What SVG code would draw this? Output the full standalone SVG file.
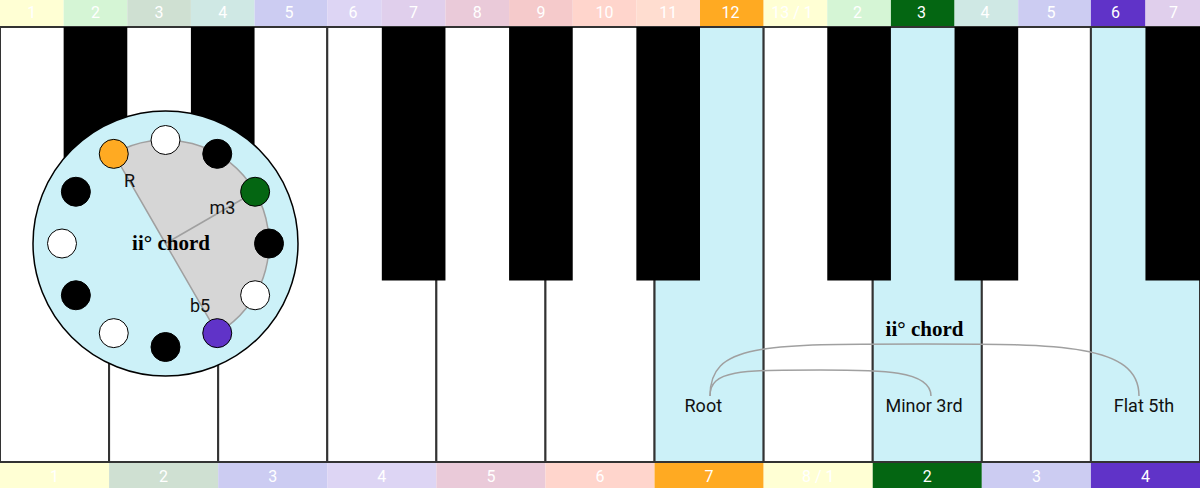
<svg xmlns="http://www.w3.org/2000/svg" width="1200" height="488" viewBox="0 0 1200 488">
<style>
.wk{fill:#ffffff;stroke:#333333;stroke-width:2}
.wk.hl{fill:#ccf1f8}
.bk{fill:#000000}
.cell text,.lbl{font-family:Roboto,"Liberation Sans",sans-serif;text-anchor:middle}
.cell text{font-size:16px;fill:#ffffff}
.lbl{font-size:18px;fill:#111111}
.title{font-family:"Liberation Serif","DejaVu Serif",serif;font-weight:bold;font-size:21px;fill:#000000;text-anchor:middle}
.dot{stroke:#000000;stroke-width:1}
.conn path{fill:none;stroke:#a0a0a0;stroke-width:1.5}
</style>
<g id="top-bar" class="cell">
<rect x="0" y="0" width="63.64" height="26" fill="#ffffd4"/><text x="31.8" y="17.5">1</text>
<rect x="63.64" y="0" width="63.64" height="26" fill="#d5f5d5"/><text x="95.5" y="17.5">2</text>
<rect x="127.27" y="0" width="63.64" height="26" fill="#cfe0d2"/><text x="159.1" y="17.5">3</text>
<rect x="190.91" y="0" width="63.64" height="26" fill="#cfe8e4"/><text x="222.7" y="17.5">4</text>
<rect x="254.55" y="0" width="72.73" height="26" fill="#ccccf2"/><text x="289" y="17.5">5</text>
<rect x="327.27" y="0" width="54.55" height="26" fill="#ddd5f4"/><text x="353" y="17.5">6</text>
<rect x="381.82" y="0" width="63.64" height="26" fill="#e0cfec"/><text x="413.6" y="17.5">7</text>
<rect x="445.45" y="0" width="63.64" height="26" fill="#eacad9"/><text x="477.3" y="17.5">8</text>
<rect x="509.09" y="0" width="63.64" height="26" fill="#f5cacb"/><text x="540.9" y="17.5">9</text>
<rect x="572.73" y="0" width="63.64" height="26" fill="#ffd5cc"/><text x="604.5" y="17.5">10</text>
<rect x="636.36" y="0" width="63.64" height="26" fill="#ffddd0"/><text x="668.2" y="17.5">11</text>
<rect x="700" y="0" width="63.64" height="26" fill="#ffaa22"/><text x="730.5" y="17.5">12</text>
<rect x="763.64" y="0" width="63.64" height="26" fill="#ffffd4"/><text x="792" y="17.5">13 / 1</text>
<rect x="827.27" y="0" width="63.64" height="26" fill="#d5f5d5"/><text x="857.5" y="17.5">2</text>
<rect x="890.91" y="0" width="63.64" height="26" fill="#046612"/><text x="921.5" y="17.5">3</text>
<rect x="954.55" y="0" width="63.64" height="26" fill="#cfe8e4"/><text x="985" y="17.5">4</text>
<rect x="1018.18" y="0" width="72.73" height="26" fill="#ccccf2"/><text x="1051" y="17.5">5</text>
<rect x="1090.91" y="0" width="54.55" height="26" fill="#6033c8"/><text x="1115.5" y="17.5">6</text>
<rect x="1145.45" y="0" width="54.55" height="26" fill="#e0cfec"/><text x="1173.5" y="17.5">7</text>
</g>
<g id="white-keys">
<rect class="wk" x="0" y="27" width="109.09" height="435"/>
<rect class="wk" x="109.09" y="27" width="109.09" height="435"/>
<rect class="wk" x="218.18" y="27" width="109.09" height="435"/>
<rect class="wk" x="327.27" y="27" width="109.09" height="435"/>
<rect class="wk" x="436.36" y="27" width="109.09" height="435"/>
<rect class="wk" x="545.45" y="27" width="109.09" height="435"/>
<rect class="wk hl" id="key-b" x="654.55" y="27" width="109.09" height="435"/>
<rect class="wk" x="763.64" y="27" width="109.09" height="435"/>
<rect class="wk hl" id="key-d" x="872.73" y="27" width="109.09" height="435"/>
<rect class="wk" x="981.82" y="27" width="109.09" height="435"/>
<rect class="wk hl" id="key-f" x="1090.91" y="27" width="109.09" height="435"/>
</g>
<g id="black-keys">
<rect class="bk" x="63.64" y="27" width="63.64" height="253.5"/>
<rect class="bk" x="190.91" y="27" width="63.64" height="253.5"/>
<rect class="bk" x="381.82" y="27" width="63.64" height="253.5"/>
<rect class="bk" x="509.09" y="27" width="63.64" height="253.5"/>
<rect class="bk" x="636.36" y="27" width="63.64" height="253.5"/>
<rect class="bk" x="827.27" y="27" width="63.64" height="253.5"/>
<rect class="bk" x="954.55" y="27" width="63.64" height="253.5"/>
<rect class="bk" x="1145.45" y="27" width="63.64" height="253.5"/>
</g>
<g id="bottom-bar" class="cell">
<rect x="0" y="463" width="109.09" height="25" fill="#ffffd4"/><text x="54.5" y="482.3">1</text>
<rect x="109.09" y="463" width="109.09" height="25" fill="#cfe0d2"/><text x="163.6" y="482.3">2</text>
<rect x="218.18" y="463" width="109.09" height="25" fill="#ccccf2"/><text x="272.7" y="482.3">3</text>
<rect x="327.27" y="463" width="109.09" height="25" fill="#ddd5f4"/><text x="381.8" y="482.3">4</text>
<rect x="436.36" y="463" width="109.09" height="25" fill="#eacad9"/><text x="490.9" y="482.3">5</text>
<rect x="545.45" y="463" width="109.09" height="25" fill="#ffd5cc"/><text x="600" y="482.3">6</text>
<rect x="654.55" y="463" width="109.09" height="25" fill="#ffaa22"/><text x="709.1" y="482.3">7</text>
<rect x="763.64" y="463" width="109.09" height="25" fill="#ffffd4"/><text x="818.2" y="482.3">8 / 1</text>
<rect x="872.73" y="463" width="109.09" height="25" fill="#046612"/><text x="927.3" y="482.3">2</text>
<rect x="981.82" y="463" width="109.09" height="25" fill="#ccccf2"/><text x="1036.4" y="482.3">3</text>
<rect x="1090.91" y="463" width="109.09" height="25" fill="#6033c8"/><text x="1145.5" y="482.3">4</text>
</g>
<g id="chord-circle">
<circle cx="165.5" cy="243.5" r="132.5" fill="#ccf1f8" stroke="#000000" stroke-width="1.5"/>
<path d="M165.5,243.5 L113.75,153.87 A103.5,103.5 0 0 1 255.13,191.75 A103.5,103.5 0 0 1 217.25,333.13 Z" fill="#d6d6d6" stroke="#a0a0a0" stroke-width="1.5"/>
<line x1="165.5" y1="243.5" x2="255.13" y2="191.75" stroke="#a0a0a0" stroke-width="1.5"/>
<circle class="dot" cx="165.5" cy="140" r="14.5" fill="#ffffff"/>
<circle class="dot" cx="217.25" cy="153.87" r="14.5" fill="#000000"/>
<circle class="dot" cx="255.13" cy="191.75" r="14.5" fill="#046612"/>
<circle class="dot" cx="269" cy="243.5" r="14.5" fill="#000000"/>
<circle class="dot" cx="255.13" cy="295.25" r="14.5" fill="#ffffff"/>
<circle class="dot" cx="217.25" cy="333.13" r="14.5" fill="#6033c8"/>
<circle class="dot" cx="165.5" cy="347" r="14.5" fill="#000000"/>
<circle class="dot" cx="113.75" cy="333.13" r="14.5" fill="#ffffff"/>
<circle class="dot" cx="75.87" cy="295.25" r="14.5" fill="#000000"/>
<circle class="dot" cx="62" cy="243.5" r="14.5" fill="#ffffff"/>
<circle class="dot" cx="75.87" cy="191.75" r="14.5" fill="#000000"/>
<circle class="dot" cx="113.75" cy="153.87" r="14.5" fill="#ffaa22"/>
<text class="lbl" x="129.5" y="186.5">R</text>
<text class="lbl" x="222.5" y="214.3">m3</text>
<text class="lbl" x="200" y="311.5">b5</text>
<text class="title" x="171" y="250">ii° chord</text>
</g>
<g id="connectors" class="conn">
<path d="M710,396 C710,370 740,370 820,370 C880,370 931,370 931,396"/>
<path d="M710,396 C710,344 760,344 924.5,344 C1060,344 1139,344 1139,396"/>
</g>
<g id="chord-labels">
<text class="title" x="924.5" y="336">ii° chord</text>
<text class="lbl" x="703.3" y="412.3">Root</text>
<text class="lbl" x="924" y="412.3">Minor 3rd</text>
<text class="lbl" x="1144" y="412.3">Flat 5th</text>
</g>
</svg>
